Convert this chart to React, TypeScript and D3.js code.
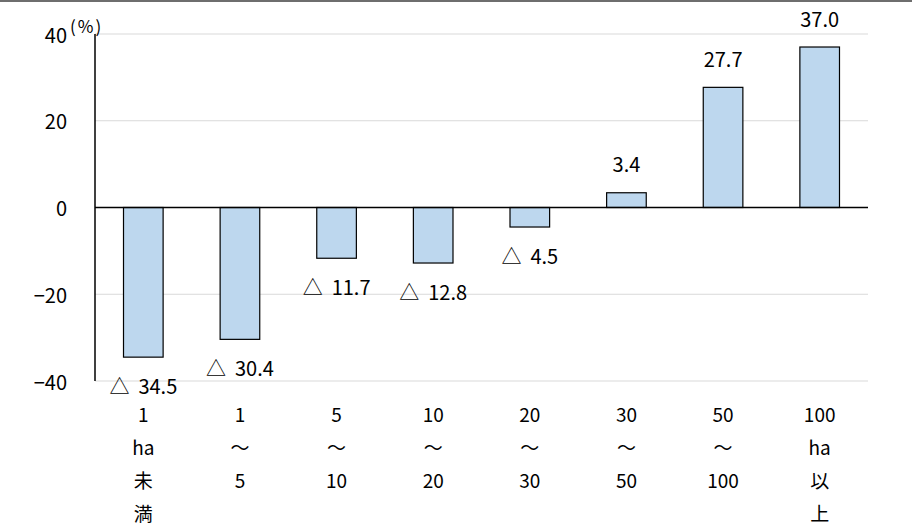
import * as d3 from "d3";

const categories = ["1ha未満", "1～5", "5～10", "10～20", "20～30", "30～50", "50～100", "100ha以上"];
const labelLines = [
  ["1", "ha", "未", "満"],
  ["1", "～", "5"],
  ["5", "～", "10"],
  ["10", "～", "20"],
  ["20", "～", "30"],
  ["30", "～", "50"],
  ["50", "～", "100"],
  ["100", "ha", "以", "上"],
];
const values = [-34.5, -30.4, -11.7, -12.8, -4.5, 3.4, 27.7, 37.0];
const yTicks = [40, 20, 0, -20, -40];

const W = 912;
const H = 531;
const M = { left: 95, right: 44, top: 34, bottom: 150 };
const FONT = "'Noto Sans CJK JP', 'Noto Sans', sans-serif";

export default function App() {
  const x = d3
    .scaleBand()
    .domain(categories)
    .range([M.left, W - M.right])
    .paddingInner(0.59)
    .paddingOuter(0.295);

  const y = d3.scaleLinear().domain([-40, 40]).range([381, 34]);

  return (
    <div style={{ position: "absolute", left: 0, top: 0 }}>
      <svg width={W} height={H} style={{ display: "block", fontFamily: FONT }}>
        <rect x={0} y={0} width={W} height={H} fill="white" />
        <line x1={0} x2={W} y1={1} y2={1} stroke="#6e6e6e" strokeWidth={2} />
        {yTicks
          .filter((t) => t !== 0)
          .map((t) => (
            <line key={t} x1={M.left} x2={W - M.right} y1={y(t)} y2={y(t)} stroke="#d9d9d9" strokeWidth={1.2} />
          ))}
        {yTicks.map((t) => (
          <text key={t} x={M.left - 28} y={y(t)} textAnchor="end" dominantBaseline="central" fontSize={20} fill="#000">
            {t < 0 ? `−${Math.abs(t)}` : t}
          </text>
        ))}
        <text x={70} y={33} fontSize={17} fill="#000" letterSpacing={2}>(%)</text>
        {values.map((v, i) => {
          const cx = x(categories[i])! + x.bandwidth() / 2;
          const y0 = y(0);
          const y1 = y(v);
          return (
            <g key={categories[i]}>
              <rect
                x={x(categories[i])}
                y={Math.min(y0, y1)}
                width={x.bandwidth()}
                height={Math.abs(y1 - y0)}
                fill="#bdd7ee"
                stroke="#000"
                strokeWidth={1.2}
              />
              <text
                x={cx}
                y={v < 0 ? y1 + 28 : y1 - 29}
                textAnchor="middle"
                dominantBaseline="central"
                fontSize={20}
                fill="#000"
              >
                {v < 0 ? (
                  <>
                    <tspan>△</tspan>
                    <tspan dx={9}>{Math.abs(v).toFixed(1)}</tspan>
                  </>
                ) : (
                  v.toFixed(1)
                )}
              </text>
            </g>
          );
        })}
        <line x1={M.left} x2={M.left} y1={y(40)} y2={y(-40)} stroke="#000" strokeWidth={1.5} />
        <line x1={M.left} x2={W - M.right} y1={y(0)} y2={y(0)} stroke="#000" strokeWidth={1.5} />
        {labelLines.map((lines, i) => {
          const cx = x(categories[i])! + x.bandwidth() / 2;
          return (
            <text key={categories[i]} textAnchor="middle" fontSize={19} fill="#000">
              {lines.map((l, j) => (
                <tspan key={j} x={cx} y={413 + j * 33} dominantBaseline="central">
                  {l}
                </tspan>
              ))}
            </text>
          );
        })}
      </svg>
    </div>
  );
}
